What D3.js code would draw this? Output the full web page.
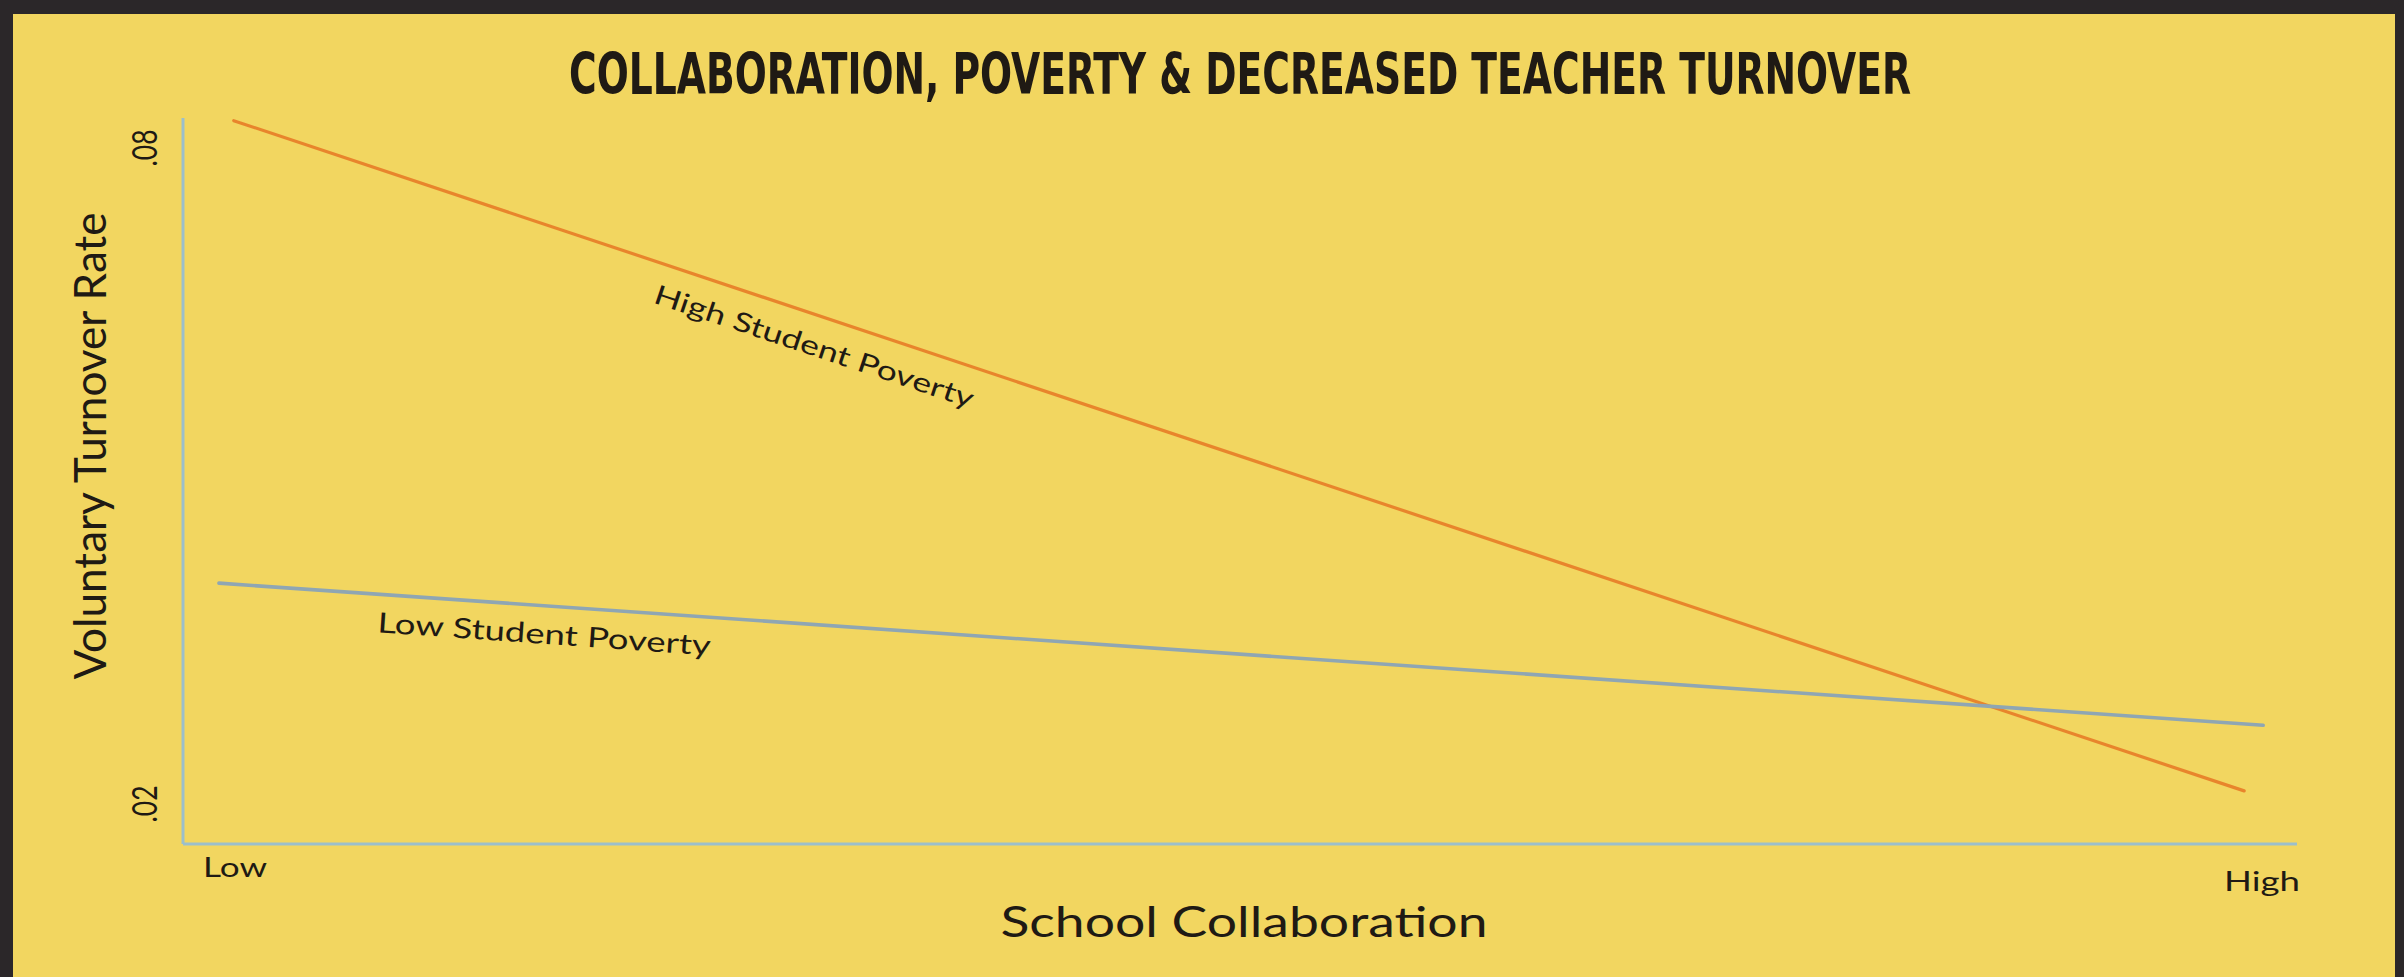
<!DOCTYPE html>
<html>
<head>
<meta charset="utf-8">
<script src="https://cdn.jsdelivr.net/npm/d3@7"></script>
<style>
  html, body { margin: 0; padding: 0; background: #2b2729; }
  svg { display: block; }
</style>
</head>
<body>
<svg id="chart" width="2404" height="977"></svg>
<script>
// ---- data ----
const xCategories = ["Low", "High"];           // collaboration axis end labels
const xCategoryValues = [0, 1];
const yTickValues = [0.02, 0.08];
const yTickLabels = [".02", ".08"];

const highPovertyCollab = [0.024, 0.975];
const highPovertyRate   = [0.0825, 0.0212];
const lowPovertyCollab  = [0.017, 0.984];
const lowPovertyRate    = [0.0402, 0.0272];

const seriesNames = ["High Student Poverty", "Low Student Poverty"];

// ---- layout ----
const W = 2404, H = 977;
const plotLeft = 183, plotRight = 2297, plotTop = 118, plotBottom = 844;
const ink = "#1f1a14";

const svg = d3.select("#chart");

// panel with dark frame on left, top and right
svg.append("rect").attr("x", 0).attr("y", 0).attr("width", W).attr("height", H).attr("fill", "#2b2729");
svg.append("rect").attr("x", 13).attr("y", 14).attr("width", 2395 - 13).attr("height", H - 14).attr("fill", "#f2d660");

const x = d3.scaleLinear().domain([0, 1]).range([plotLeft, plotRight]);
const y = d3.scaleLinear().domain([0.02, 0.08]).range([804, 148]);

// title
svg.append("text")
  .attr("x", 1240).attr("y", 94)
  .attr("text-anchor", "middle")
  .attr("font-family", "'Liberation Sans Narrow', 'DejaVu Sans Condensed', sans-serif")
  .attr("font-weight", 700)
  .attr("font-size", 57)
  .attr("textLength", 1342)
  .attr("lengthAdjust", "spacingAndGlyphs")
  .attr("fill", ink)
  .text("COLLABORATION, POVERTY & DECREASED TEACHER TURNOVER");

// axes frame
const axisColor = "#9cbfcb";
svg.append("line")
  .attr("x1", plotLeft).attr("x2", plotLeft)
  .attr("y1", plotTop).attr("y2", plotBottom)
  .attr("stroke", axisColor).attr("stroke-width", 3);
svg.append("line")
  .attr("x1", plotLeft).attr("x2", plotRight)
  .attr("y1", plotBottom).attr("y2", plotBottom)
  .attr("stroke", axisColor).attr("stroke-width", 3);

// y tick labels, rotated
yTickValues.forEach((v, i) => {
  svg.append("text")
    .attr("transform", `translate(157,${y(v)}) rotate(-90)`)
    .attr("text-anchor", "middle")
    .attr("font-family", "Lato, 'Noto Sans', sans-serif")
    .attr("font-size", 34)
    .attr("textLength", 37)
    .attr("lengthAdjust", "spacingAndGlyphs")
    .attr("fill", ink)
    .text(yTickLabels[i]);
});

// x category labels
svg.append("text")
  .attr("x", x(xCategoryValues[0]) + 20).attr("y", 877)
  .attr("font-family", "Lato, 'Noto Sans', sans-serif")
  .attr("font-size", 27)
  .attr("textLength", 64)
  .attr("lengthAdjust", "spacingAndGlyphs")
  .attr("fill", ink)
  .text(xCategories[0]);
svg.append("text")
  .attr("x", x(xCategoryValues[1]) + 3).attr("y", 891)
  .attr("text-anchor", "end")
  .attr("font-family", "Lato, 'Noto Sans', sans-serif")
  .attr("font-size", 26)
  .attr("textLength", 76)
  .attr("lengthAdjust", "spacingAndGlyphs")
  .attr("fill", ink)
  .text(xCategories[1]);

// axis titles
svg.append("text")
  .attr("x", 1244).attr("y", 937)
  .attr("text-anchor", "middle")
  .attr("font-family", "Lato, 'Noto Sans', sans-serif")
  .attr("font-size", 43)
  .attr("textLength", 487)
  .attr("lengthAdjust", "spacingAndGlyphs")
  .attr("fill", ink)
  .text("School Collaboration");
svg.append("text")
  .attr("transform", "translate(106,446) rotate(-90)")
  .attr("text-anchor", "middle")
  .attr("font-family", "Lato, 'Noto Sans', sans-serif")
  .attr("font-size", 45)
  .attr("textLength", 467)
  .attr("lengthAdjust", "spacingAndGlyphs")
  .attr("fill", ink)
  .text("Voluntary Turnover Rate");

// series lines
const series = [
  { name: seriesNames[0], collab: highPovertyCollab, rate: highPovertyRate, color: "#e8852c", width: 3.2, labelAt: 0.228, offset: 40, len: 335, size: 27 },
  { name: seriesNames[1], collab: lowPovertyCollab,  rate: lowPovertyRate,  color: "#8fa6b3", width: 3.6, labelAt: 0.093, offset: 38, len: 334, size: 28 }
];

const line = d3.line().x(d => x(d[0])).y(d => y(d[1]));

series.forEach(s => {
  const pts = d3.zip(s.collab, s.rate);
  svg.append("path")
    .attr("d", line(pts))
    .attr("fill", "none")
    .attr("stroke", s.color)
    .attr("stroke-width", s.width)
    .attr("stroke-linecap", "round");

  // label runs parallel to its line, just below it
  const x0 = x(s.collab[0]), y0 = y(s.rate[0]);
  const x1 = x(s.collab[1]), y1 = y(s.rate[1]);
  const ang = Math.atan2(y1 - y0, x1 - x0) * 180 / Math.PI;
  const t = (s.labelAt - s.collab[0]) / (s.collab[1] - s.collab[0]);
  const lr = s.rate[0] + t * (s.rate[1] - s.rate[0]);
  svg.append("text")
    .attr("transform", `translate(${x(s.labelAt)},${y(lr)}) rotate(${ang})`)
    .attr("x", 0).attr("y", s.offset)
    .attr("font-family", "Lato, 'Noto Sans', sans-serif")
    .attr("font-size", s.size)
    .attr("textLength", s.len)
    .attr("lengthAdjust", "spacingAndGlyphs")
    .attr("fill", ink)
    .text(s.name);
});
</script>
</body>
</html>
